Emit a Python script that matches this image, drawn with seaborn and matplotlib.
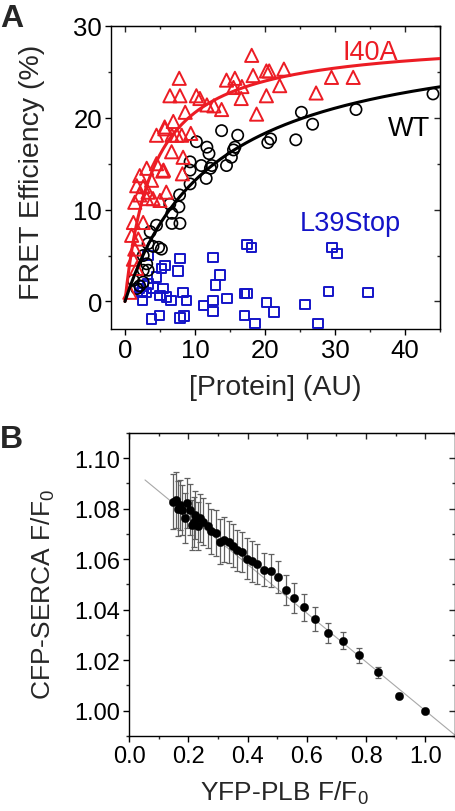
import numpy as np
import pandas as pd
import matplotlib
matplotlib.use("Agg")
import matplotlib.pyplot as plt
from matplotlib.ticker import MultipleLocator, FormatStrFormatter
import seaborn as sns

# ---------------- Panel A data ----------------
i40a_x = [18.1, 7.75, 6.42, 7.85, 10.2, 10.7, 11.7, 12.7, 8.6, 13.8, 14.5, 15.7, 15.5, 16.7,
          16.6, 18.3, 18.8, 20.2, 20.6, 20.2, 22.1, 22.7, 27.3, 29.5, 32.6, 4.5, 5.67, 6.9,
          6.7, 8.1, 9.4, 6.66, 8.3, 8.2, 4.5, 5.4, 3.1, 2.1, 1.67, 2.6, 3.3, 4.0, 5.0, 5.9,
          1.4, 2.1, 1.2, 2.6, 0.95, 1.9, 1.2, 1.67, 0.7, 1.4, 3.1, 3.8, 5.7, 7.4, 5.5]
i40a_y = [26.8, 24.3, 22.4, 22.4, 22.4, 22.1, 21.4, 21.3, 20.6, 20.9, 24.1, 24.3, 23.3, 23.4,
          22.1, 24.6, 20.4, 25.1, 25.1, 22.4, 23.5, 25.3, 22.7, 24.4, 24.4, 18.1, 19.0, 19.6,
          18.1, 18.1, 18.3, 16.3, 15.7, 13.9, 15.0, 14.2, 14.5, 13.7, 12.6, 12.5, 11.9, 11.2,
          11.0, 11.9, 10.8, 11.6, 8.6, 8.6, 7.2, 6.8, 4.6, 3.6, 1.0, 5.7, 11.2, 13.2, 18.8,
          18.1, 14.3]

wt_x = [44.0, 33.0, 25.2, 26.8, 24.4, 20.4, 20.8, 13.8, 16.1, 15.5, 15.7, 14.5, 10.2, 11.7,
        12.0, 9.3, 10.9, 9.3, 12.2, 11.6, 9.3, 7.8, 7.7, 6.4, 6.7, 6.7, 7.85, 4.5, 3.6, 3.3,
        4.0, 5.2, 4.8, 2.6, 3.1, 2.6, 3.3, 1.2, 2.1, 1.7, 2.6, 15.2, 12.4]
wt_y = [22.6, 20.9, 20.6, 19.3, 17.6, 17.3, 17.7, 18.6, 18.1, 16.5, 16.8, 14.8, 17.4, 16.8,
        16.1, 15.2, 14.8, 14.3, 14.5, 13.4, 12.8, 11.6, 10.3, 10.6, 9.6, 8.5, 8.5, 8.3, 7.6,
        6.3, 6.0, 5.7, 5.9, 5.0, 4.1, 3.4, 3.4, 2.3, 1.7, 1.4, 2.1, 15.7, 14.8]

l39_x = [17.4, 18.1, 29.6, 30.3, 3.3, 7.85, 12.6, 5.7, 5.2, 7.6, 4.5, 13.55, 12.95, 3.3, 4.0,
         2.6, 2.1, 5.45, 5.0, 5.9, 6.6, 2.5, 3.1, 8.3, 8.8, 11.2, 12.6, 12.6, 14.6, 17.1,
         17.4, 20.2, 21.3, 25.7, 29.1, 34.7, 3.8, 4.9, 7.85, 8.45, 17.1, 18.6, 27.6, 2.4]
l39_y = [6.2, 5.9, 5.9, 5.2, 5.0, 4.65, 4.8, 3.9, 3.6, 3.3, 2.65, 2.9, 1.8, 1.9, 1.45,
         1.7, 1.4, 1.4, 0.65, 0.5, 0.1, 0.1, 1.0, 0.95, 0.1, -0.45, 0.1, -1.1, 0.35, 0.85,
         0.85, -0.1, -1.15, -0.35, 1.1, 0.95, -1.9, -1.5, -1.8, -1.6, -1.5, -2.4, -2.4, 1.0]

# hyperbolic fit parameters (Emax, Kd)
i40a_fit = (28.8, 4.0)
wt_fit = (30.0, 12.76)

# ---------------- Panel B data ----------------
b_x = [0.150, 0.159, 0.165, 0.172, 0.178, 0.189, 0.195, 0.206, 0.212, 0.218, 0.223, 0.232,
       0.238, 0.251, 0.265, 0.277, 0.294, 0.307, 0.321, 0.336, 0.350, 0.364, 0.381, 0.398,
       0.414, 0.431, 0.454, 0.479, 0.504, 0.529, 0.557, 0.591, 0.629, 0.671, 0.721, 0.775,
       0.840, 0.912, 1.000]
b_y = [1.0828, 1.0835, 1.0800, 1.0815, 1.0795, 1.0763, 1.0822, 1.0796, 1.0736, 1.0748,
       1.0776, 1.0733, 1.0763, 1.0749, 1.0733, 1.0710, 1.0703, 1.0670, 1.0677, 1.0668,
       1.0653, 1.0635, 1.0628, 1.0602, 1.0591, 1.0582, 1.0558, 1.0554, 1.0528, 1.0479,
       1.0446, 1.0410, 1.0363, 1.0307, 1.0277, 1.0219, 1.0153, 1.0059, 1.0000]
b_yerr = [0.011, 0.011, 0.011, 0.010, 0.010, 0.010, 0.010, 0.010, 0.010, 0.010, 0.0095,
          0.0095, 0.0095, 0.0092, 0.009, 0.009, 0.009, 0.009, 0.009, 0.0085, 0.0085, 0.0082,
          0.008, 0.008, 0.008, 0.008, 0.0066, 0.0065, 0.0063, 0.006, 0.006, 0.0053, 0.0048,
          0.004, 0.0033, 0.003, 0.0022, 0.001, 0.0005]
b_xerr = [0.006] * len(b_x)
b_line_x = [0.054, 1.10]
b_slope = -0.0966

RED = "#ec1c24"
BLUE = "#1414c8"

sns.set_style("ticks")
plt.rcParams["font.family"] = ["Liberation Sans", "DejaVu Sans"]
plt.rcParams["mathtext.fontset"] = "custom"
plt.rcParams["mathtext.rm"] = "Liberation Sans"

fig = plt.figure(figsize=(4.56, 8.12), dpi=100)
axA = fig.add_axes([0.2434, 0.5936, 0.7215, 0.3732])
axB = fig.add_axes([0.2829, 0.0924, 0.7149, 0.3732])

dfA = pd.concat([
    pd.DataFrame({"x": i40a_x, "y": i40a_y, "g": "I40A"}),
    pd.DataFrame({"x": wt_x, "y": wt_y, "g": "WT"}),
    pd.DataFrame({"x": l39_x, "y": l39_y, "g": "L39Stop"}),
])

sns.scatterplot(data=dfA[dfA.g == "L39Stop"], x="x", y="y", ax=axA, marker="s", s=46,
                facecolors="none", edgecolor=BLUE, linewidth=1.4, zorder=3)
sns.scatterplot(data=dfA[dfA.g == "WT"], x="x", y="y", ax=axA, marker="o", s=66,
                facecolors="none", edgecolor="black", linewidth=1.2, zorder=3)
sns.scatterplot(data=dfA[dfA.g == "I40A"], x="x", y="y", ax=axA, marker="^", s=90,
                facecolors="none", edgecolor=RED, linewidth=1.4, zorder=4)

xf = np.linspace(0, 45, 300)
fit_df = pd.DataFrame({
    "x": np.concatenate([xf, xf]),
    "y": np.concatenate([i40a_fit[0] * xf / (i40a_fit[1] + xf), wt_fit[0] * xf / (wt_fit[1] + xf)]),
    "g": ["I40A"] * len(xf) + ["WT"] * len(xf),
})
sns.lineplot(data=fit_df, x="x", y="y", hue="g", palette={"I40A": RED, "WT": "black"},
             ax=axA, linewidth=2.2, legend=False, zorder=5)

axA.set_xlim(-2, 45)
axA.set_ylim(-3, 30)
axA.xaxis.set_major_locator(MultipleLocator(10))
axA.xaxis.set_minor_locator(MultipleLocator(5))
axA.yaxis.set_major_locator(MultipleLocator(10))
axA.yaxis.set_minor_locator(MultipleLocator(5))
axA.set_xlabel("[Protein] (AU)", fontsize=20.5)
axA.set_ylabel("FRET Efficiency (%)", fontsize=20.5)
axA.xaxis.set_label_coords(0.5, -0.15)
axA.yaxis.set_label_coords(-0.20, 0.52)
axA.text(31.1, 26.4, "I40A", color=RED, fontsize=19.5)
axA.text(37.5, 18.1, "WT", color="black", fontsize=19.5)
axA.text(25.0, 7.73, "L39Stop", color=BLUE, fontsize=19.5)

# Panel B
bline_y = [1 + b_slope * (v - 1) for v in b_line_x]
sns.lineplot(x=b_line_x, y=bline_y, ax=axB, color="#a8a8a8", linewidth=0.8, zorder=1)
axB.errorbar(b_x, b_y, yerr=b_yerr, xerr=b_xerr, fmt="none", ecolor="#606060",
             elinewidth=0.9, capsize=2.5, capthick=0.9, zorder=2)
sns.scatterplot(x=b_x, y=b_y, ax=axB, color="black", s=36, edgecolor="black",
                linewidth=0.3, zorder=3)
axB.set_xlim(0, 1.1)
axB.set_ylim(0.99, 1.11)
axB.xaxis.set_major_locator(MultipleLocator(0.2))
axB.xaxis.set_minor_locator(MultipleLocator(0.1))
axB.yaxis.set_major_locator(MultipleLocator(0.02))
axB.yaxis.set_minor_locator(MultipleLocator(0.01))
axB.xaxis.set_major_formatter(FormatStrFormatter("%.1f"))
axB.yaxis.set_major_formatter(FormatStrFormatter("%.2f"))
axB.set_xlabel(r"YFP-PLB F/F$_\mathregular{0}$", fontsize=19)
axB.set_ylabel(r"CFP-SERCA F/F$_\mathregular{0}$", fontsize=19)
axB.xaxis.set_label_coords(0.475, -0.14)
axB.yaxis.set_label_coords(-0.22, 0.47)

for ax, tsize in ((axA, 18.5), (axB, 17)):
    for s in ax.spines.values():
        s.set_linewidth(1.0)
        s.set_color("black")
    ax.tick_params(which="major", direction="out", length=4.5, width=1.0,
                   labelsize=tsize, colors="black", pad=2)
    ax.tick_params(which="minor", direction="out", length=2.5, width=1.0)
    top = ax.secondary_xaxis("top")
    top.xaxis.set_major_locator(ax.xaxis.get_major_locator())
    top.xaxis.set_minor_locator(ax.xaxis.get_minor_locator())
    top.tick_params(which="major", direction="in", length=4.5, width=1.0, labeltop=False)
    top.tick_params(which="minor", direction="in", length=2.5, width=1.0)
    right = ax.secondary_yaxis("right")
    right.yaxis.set_major_locator(ax.yaxis.get_major_locator())
    right.yaxis.set_minor_locator(ax.yaxis.get_minor_locator())
    right.tick_params(which="major", direction="in", length=4.5, width=1.0, labelright=False)
    right.tick_params(which="minor", direction="in", length=2.5, width=1.0)

fig.text(0.0, 0.967, "A", fontsize=23, fontweight="bold", ha="left", va="baseline")
fig.text(0.0, 0.448, "B", fontsize=23, fontweight="bold", ha="left", va="baseline")

fig.savefig("out.png", dpi=100)
